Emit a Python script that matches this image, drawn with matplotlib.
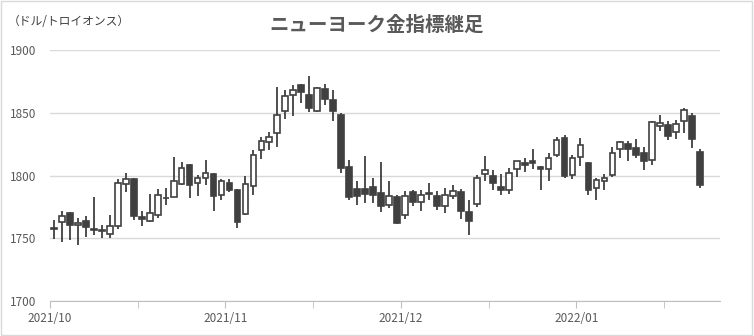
import numpy as np
import matplotlib
matplotlib.use("Agg")
import matplotlib.pyplot as plt
from matplotlib.patches import Rectangle

plt.rcParams['font.family'] = ['Noto Sans CJK JP', 'DejaVu Sans']

title = "ニューヨーク金指標継足"
unit_label = "（ドル/トロイオンス）"
month_labels = ["2021/10", "2021/11", "2021/12", "2022/01"]
y_ticks = [1700, 1750, 1800, 1850, 1900]

# daily candles
opens = [1758.0, 1762.8, 1770.6, 1760.5, 1763.8, 1757.2, 1756.4, 1753.7, 1760.3, 1793.6,
         1797.0, 1767.4, 1764.3, 1769.0, 1782.6, 1783.3, 1793.6, 1808.7, 1794.4, 1798.4,
         1801.6, 1784.9, 1794.4, 1788.9, 1769.8, 1792.1, 1820.6, 1827.0, 1834.1, 1851.6,
         1864.3, 1872.3, 1864.3, 1851.6, 1869.1, 1860.3, 1848.4, 1807.1, 1789.7, 1789.7,
         1791.3, 1786.5, 1777.0, 1783.3, 1769.0, 1787.3, 1779.4, 1786.0, 1784.1, 1776.2,
         1784.1, 1787.3, 1771.4, 1777.8, 1801.6, 1800.0, 1791.3, 1788.9, 1805.6, 1810.3,
         1811.9, 1806.6, 1805.6, 1816.7, 1830.2, 1800.8, 1815.1, 1810.3, 1790.5, 1796.0,
         1800.8, 1821.4, 1825.4, 1822.2, 1818.3, 1812.7, 1839.7, 1840.5, 1834.9, 1843.7,
         1847.6, 1819.0]
highs = [1765.0, 1771.6, 1771.0, 1766.0, 1767.7, 1782.8, 1761.1, 1768.9, 1797.0, 1801.8,
         1798.1, 1772.2, 1785.7, 1789.7, 1790.5, 1815.1, 1811.1, 1809.5, 1800.8, 1812.7,
         1802.4, 1797.6, 1797.6, 1789.0, 1800.0, 1820.1, 1831.0, 1834.9, 1870.7, 1868.3,
         1872.3, 1873.0, 1879.4, 1870.7, 1873.0, 1868.3, 1850.0, 1812.7, 1796.0, 1815.9,
         1798.4, 1811.1, 1795.5, 1784.9, 1788.1, 1788.9, 1788.9, 1794.4, 1788.1, 1790.5,
         1792.9, 1789.7, 1780.9, 1800.8, 1815.9, 1804.8, 1801.6, 1806.4, 1811.9, 1814.3,
         1821.4, 1807.9, 1818.3, 1831.0, 1832.6, 1816.7, 1830.2, 1811.1, 1798.4, 1801.6,
         1823.0, 1827.8, 1827.8, 1829.4, 1823.0, 1843.7, 1848.4, 1843.7, 1844.5, 1854.0,
         1850.0, 1821.4]
lows = [1749.7, 1747.3, 1748.4, 1745.2, 1751.3, 1753.1, 1750.0, 1750.0, 1757.6, 1787.0,
        1765.0, 1760.0, 1763.5, 1766.7, 1776.7, 1783.0, 1792.9, 1782.5, 1784.1, 1792.9,
        1772.2, 1780.5, 1787.3, 1758.7, 1769.0, 1784.9, 1813.5, 1820.6, 1822.7, 1845.3,
        1847.6, 1858.0, 1850.8, 1850.8, 1856.4, 1843.7, 1802.4, 1780.9, 1777.0, 1778.6,
        1778.6, 1771.4, 1774.1, 1761.9, 1765.8, 1776.2, 1772.2, 1780.5, 1773.0, 1770.6,
        1781.7, 1765.8, 1753.1, 1775.4, 1796.0, 1788.9, 1784.9, 1785.7, 1799.2, 1803.2,
        1805.6, 1788.9, 1796.0, 1815.1, 1798.4, 1797.6, 1807.9, 1784.9, 1780.9, 1788.9,
        1799.2, 1814.3, 1811.9, 1814.3, 1804.8, 1808.7, 1835.7, 1828.6, 1829.4, 1834.1,
        1822.2, 1790.5]
closes = [1757.4, 1767.7, 1761.1, 1762.3, 1759.0, 1756.6, 1755.8, 1760.1, 1794.4, 1797.6,
          1768.2, 1765.8, 1770.6, 1784.9, 1782.0, 1796.0, 1806.4, 1792.9, 1798.4, 1802.4,
          1784.1, 1795.5, 1788.9, 1763.5, 1793.6, 1816.7, 1827.8, 1831.0, 1848.4, 1863.5,
          1868.3, 1866.7, 1854.0, 1869.9, 1861.2, 1851.6, 1806.4, 1783.3, 1784.1, 1785.7,
          1784.9, 1776.2, 1784.1, 1762.7, 1784.1, 1779.4, 1784.9, 1785.4, 1776.2, 1784.9,
          1788.1, 1772.2, 1764.3, 1798.4, 1804.8, 1794.4, 1788.9, 1802.4, 1811.9, 1808.7,
          1810.3, 1805.6, 1814.3, 1828.6, 1800.0, 1814.3, 1824.6, 1788.9, 1796.8, 1798.4,
          1818.3, 1827.0, 1821.4, 1816.7, 1811.9, 1842.9, 1842.1, 1831.8, 1841.3, 1852.4,
          1829.4, 1792.9]

n_slots = 84          # category axis has two empty slots at the end
label_every = 22


def main():
    fig = plt.figure(figsize=(7.54, 3.36), dpi=100)
    ax = fig.add_axes([0.0663, 0.1033, 0.8887, 0.7477])

    dark = '#404040'
    x = np.arange(len(opens))
    o = np.array(opens)
    c = np.array(closes)
    up = c >= o

    ax.vlines(x, lows, highs, color=dark, linewidth=1.3, zorder=2)
    ax.bar(x, np.abs(c - o), bottom=np.minimum(o, c), width=0.72,
           color=np.where(up, 'white', dark), edgecolor=dark, linewidth=1.2, zorder=3)

    ax.set_xlim(-0.5, n_slots - 0.5)
    ax.set_ylim(1700, 1900)
    ax.set_yticks(y_ticks)
    ax.yaxis.grid(True, color='#d9d9d9', linewidth=1)
    ax.set_axisbelow(True)

    major = [-0.5 + label_every * i for i in range(len(month_labels))]
    minor = [-0.5 + label_every // 2 + label_every * i for i in range(len(month_labels))]
    ax.set_xticks(major)
    ax.set_xticklabels(month_labels)
    ax.set_xticks(minor, minor=True)
    ax.tick_params(axis='x', which='both', length=5, color='#bfbfbf', labelsize=8.5,
                   labelcolor='#595959', pad=3)
    ax.tick_params(axis='y', length=0, labelsize=8.5, labelcolor='#595959', pad=10)

    for side in ['top', 'right', 'left']:
        ax.spines[side].set_visible(False)
    ax.spines['bottom'].set_color('#bfbfbf')

    fig.text(0.5, 0.925, title, ha='center', va='center', fontsize=14,
             fontweight='bold', color='#595959')
    fig.text(0.01, 0.935, unit_label, ha='left', va='center', fontsize=8.5,
             color='#404040')

    fig.patches.append(Rectangle((0.001, 0.002), 0.997, 0.995, transform=fig.transFigure,
                                 fill=False, edgecolor='#d9d9d9', linewidth=1))

    fig.savefig('out.png', dpi=100)


if __name__ == "__main__":
    main()
